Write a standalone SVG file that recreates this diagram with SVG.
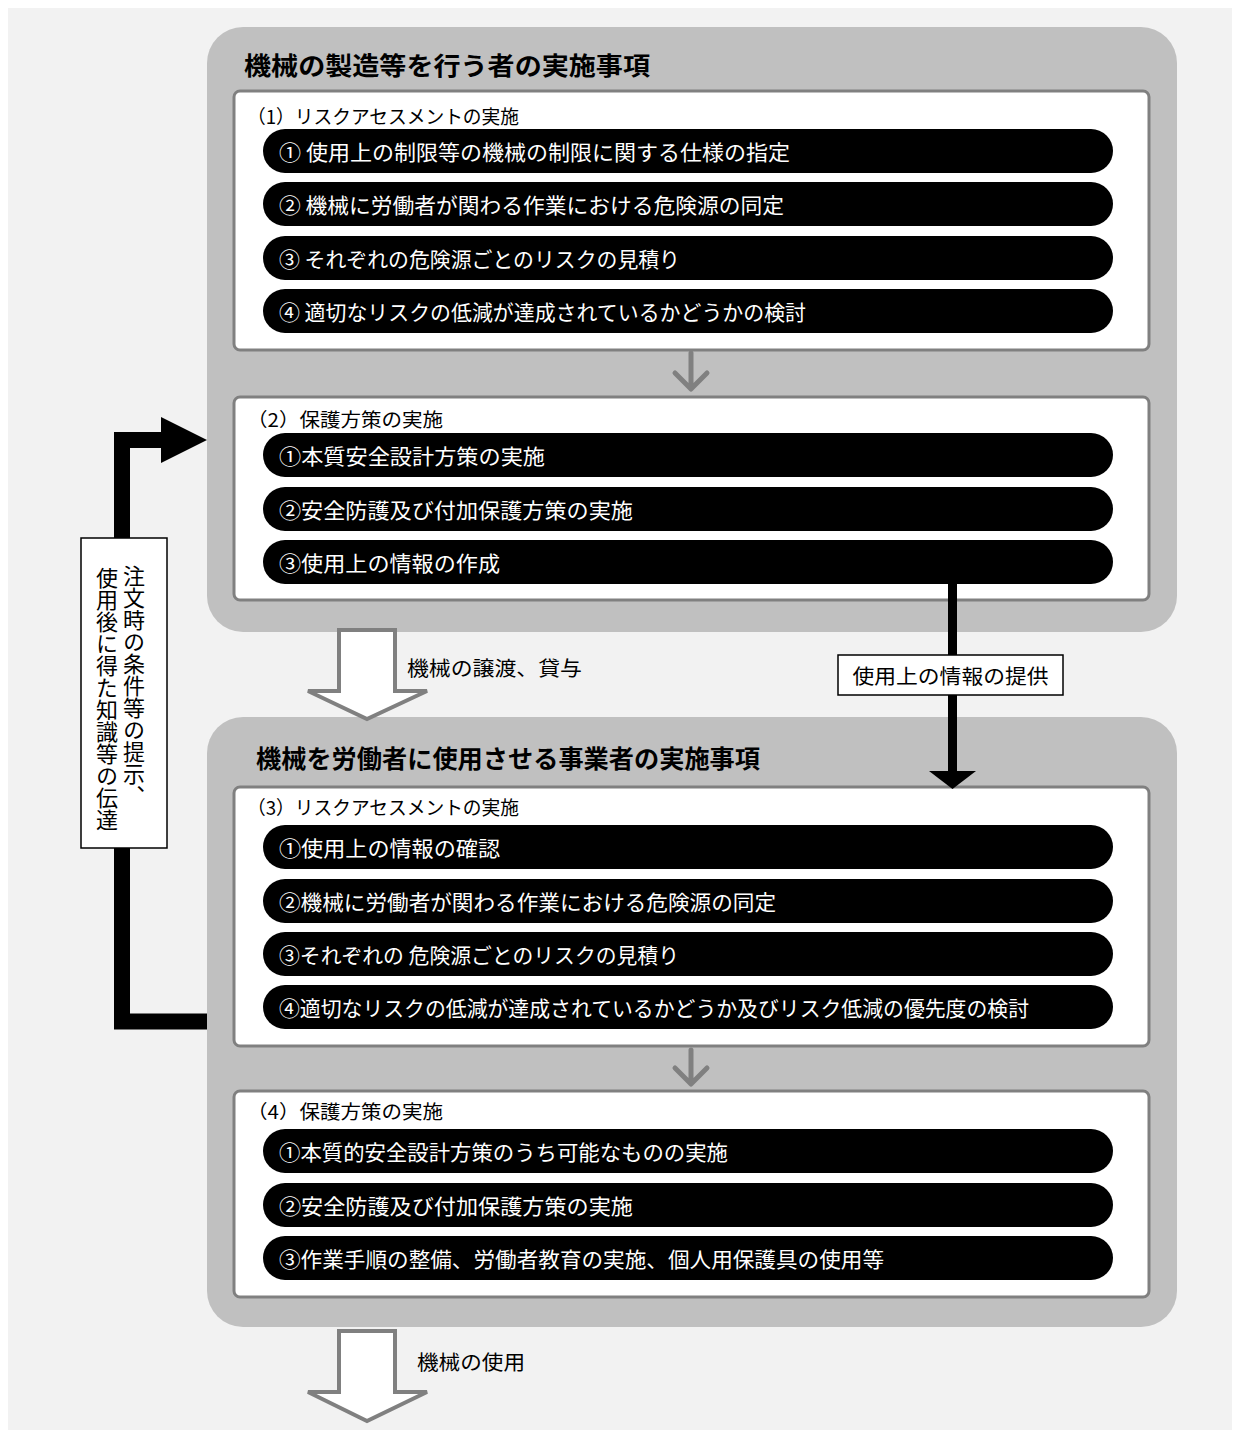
<svg xmlns="http://www.w3.org/2000/svg" width="1239" height="1438" viewBox="0 0 1239 1438">
<style>
text{font-family:"Noto Sans CJK JP","Noto Sans",sans-serif;dominant-baseline:central}
.outer{fill:#c0c0c0}
.inner{fill:#ffffff;stroke:#808080;stroke-width:3}
.pill{fill:#000000}
.pt{fill:#ffffff;font-size:21px}
.title{fill:#000000;font-size:25px;font-weight:700}
.hdr{fill:#000000;font-size:19px}
.lbl{fill:#000000;font-size:20px}
.chev{fill:none;stroke:#808080;stroke-width:5;stroke-linecap:round;stroke-linejoin:round}
.hollow{fill:#ffffff;stroke:#808080;stroke-width:4;stroke-linejoin:miter}
.vt{fill:#000000;font-size:22px;writing-mode:vertical-rl}
</style>
<rect x="0" y="0" width="1239" height="1438" fill="#ffffff"/>
<rect x="8" y="8" width="1224" height="1422" fill="#f2f2f2"/>

<g id="maker">
  <rect class="outer" x="207" y="27" width="970" height="605" rx="36"/>
  <text class="title" x="244" y="64" textLength="406" lengthAdjust="spacingAndGlyphs">機械の製造等を行う者の実施事項</text>
</g>
<g id="ra1">
  <rect class="inner" x="234" y="91" width="915" height="259" rx="6"/>
  <text class="hdr" x="247" y="115" textLength="272" lengthAdjust="spacingAndGlyphs">（1）リスクアセスメントの実施</text>
  <rect class="pill" x="263" y="129" width="850" height="44" rx="22"/>
  <text class="pt" x="279" y="151" textLength="511" lengthAdjust="spacingAndGlyphs">① 使用上の制限等の機械の制限に関する仕様の指定</text>
  <rect class="pill" x="263" y="182" width="850" height="44" rx="22"/>
  <text class="pt" x="279" y="204" textLength="505" lengthAdjust="spacingAndGlyphs">② 機械に労働者が関わる作業における危険源の同定</text>
  <rect class="pill" x="263" y="236" width="850" height="44" rx="22"/>
  <text class="pt" x="279" y="258" textLength="401" lengthAdjust="spacingAndGlyphs">③ それぞれの危険源ごとのリスクの見積り</text>
  <rect class="pill" x="263" y="289" width="850" height="44" rx="22"/>
  <text class="pt" x="279" y="311" textLength="527" lengthAdjust="spacingAndGlyphs">④ 適切なリスクの低減が達成されているかどうかの検討</text>
</g>
<g id="pm1">
  <rect class="inner" x="234" y="397" width="915" height="203" rx="6"/>
  <text class="hdr" x="247" y="418" textLength="196" lengthAdjust="spacingAndGlyphs">（2）保護方策の実施</text>
  <rect class="pill" x="263" y="433" width="850" height="44" rx="22"/>
  <text class="pt" x="279" y="455" textLength="266" lengthAdjust="spacingAndGlyphs">①本質安全設計方策の実施</text>
  <rect class="pill" x="263" y="487" width="850" height="44" rx="22"/>
  <text class="pt" x="279" y="509" textLength="354" lengthAdjust="spacingAndGlyphs">②安全防護及び付加保護方策の実施</text>
  <rect class="pill" x="263" y="540" width="850" height="44" rx="22"/>
  <text class="pt" x="279" y="562" textLength="221" lengthAdjust="spacingAndGlyphs">③使用上の情報の作成</text>
</g>

<g id="user">
  <rect class="outer" x="207" y="717" width="970" height="610" rx="36"/>
  <text class="title" x="256" y="757" textLength="504" lengthAdjust="spacingAndGlyphs">機械を労働者に使用させる事業者の実施事項</text>
</g>
<g id="ra2">
  <rect class="inner" x="234" y="787" width="915" height="259" rx="6"/>
  <text class="hdr" x="247" y="806" textLength="272" lengthAdjust="spacingAndGlyphs">（3）リスクアセスメントの実施</text>
  <rect class="pill" x="263" y="825" width="850" height="44" rx="22"/>
  <text class="pt" x="279" y="847" textLength="221" lengthAdjust="spacingAndGlyphs">①使用上の情報の確認</text>
  <rect class="pill" x="263" y="879" width="850" height="44" rx="22"/>
  <text class="pt" x="279" y="901" textLength="497" lengthAdjust="spacingAndGlyphs">②機械に労働者が関わる作業における危険源の同定</text>
  <rect class="pill" x="263" y="932" width="850" height="44" rx="22"/>
  <text class="pt" x="279" y="954" textLength="400" lengthAdjust="spacingAndGlyphs">③それぞれの 危険源ごとのリスクの見積り</text>
  <rect class="pill" x="263" y="985" width="850" height="44" rx="22"/>
  <text class="pt" x="279" y="1007" textLength="750" lengthAdjust="spacingAndGlyphs">④適切なリスクの低減が達成されているかどうか及びリスク低減の優先度の検討</text>
</g>
<g id="pm2">
  <rect class="inner" x="234" y="1091" width="915" height="206" rx="6"/>
  <text class="hdr" x="247" y="1110" textLength="196" lengthAdjust="spacingAndGlyphs">（4）保護方策の実施</text>
  <rect class="pill" x="263" y="1129" width="850" height="44" rx="22"/>
  <text class="pt" x="279" y="1151" textLength="449" lengthAdjust="spacingAndGlyphs">①本質的安全設計方策のうち可能なものの実施</text>
  <rect class="pill" x="263" y="1183" width="850" height="44" rx="22"/>
  <text class="pt" x="279" y="1205" textLength="354" lengthAdjust="spacingAndGlyphs">②安全防護及び付加保護方策の実施</text>
  <rect class="pill" x="263" y="1236" width="850" height="44" rx="22"/>
  <text class="pt" x="279" y="1258" textLength="605" lengthAdjust="spacingAndGlyphs">③作業手順の整備、労働者教育の実施、個人用保護具の使用等</text>
</g>

<g id="connectors">
  <path class="chev" d="M691 353 L691 388 M675 373 L691 389 L707 373"/>
  <path class="chev" d="M691 1050 L691 1083 M675 1068 L691 1084 L707 1068"/>
  <polygon class="hollow" points="339,630 395,630 395,691 427,691 367,719 308,691 339,691"/>
  <text class="lbl" x="407" y="667" textLength="175" lengthAdjust="spacingAndGlyphs">機械の譲渡、貸与</text>
  <polygon class="hollow" points="339,1331 395,1331 395,1392 427,1392 367,1421 308,1392 339,1392"/>
  <text class="lbl" x="417" y="1361" textLength="108" lengthAdjust="spacingAndGlyphs">機械の使用</text>
  <rect x="948" y="584" width="9" height="188" fill="#000000"/>
  <polygon points="929,771 976,771 952.5,789" fill="#000000"/>
  <path d="M207 1021.5 H122 V440 H162" fill="none" stroke="#000000" stroke-width="16" stroke-linejoin="miter"/>
  <polygon points="161,417 161,463 207,440" fill="#000000"/>
</g>
<g id="label-info">
  <rect x="838" y="655" width="225" height="40" fill="#ffffff" stroke="#000000" stroke-width="1.5"/>
  <text class="lbl" x="950.5" y="675" text-anchor="middle" textLength="196" lengthAdjust="spacingAndGlyphs">使用上の情報の提供</text>
</g>
<g id="label-feedback">
  <rect x="81" y="538" width="86" height="310" fill="#ffffff" stroke="#000000" stroke-width="1.5"/>
  <text class="vt" x="134" y="565">注文時の条件等の提示、</text>
  <text class="vt" x="107" y="567">使用後に得た知識等の伝達</text>
</g>
</svg>
